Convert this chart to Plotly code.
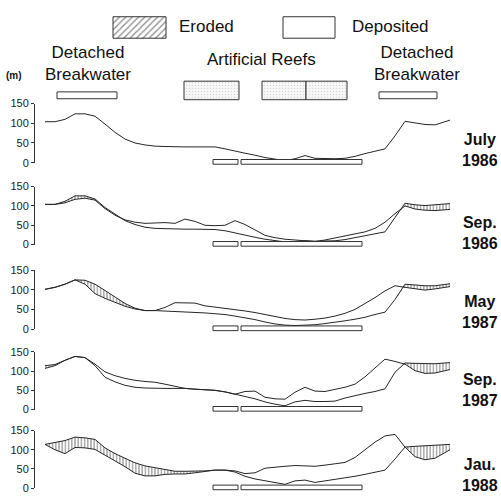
import plotly.graph_objects as go
import numpy as np

# ---------------- data ----------------
alongshore = [45, 55, 65, 75, 85, 95, 105, 115, 125, 135, 145, 155, 165, 175, 185,
              195, 205, 215, 225, 235, 245, 255, 265, 275, 285, 295, 305, 315, 325,
              335, 345, 355, 365, 375, 385, 395, 405, 415, 425, 435, 450]

survey_names = ["July<br>1986", "Sep.<br>1986", "May<br>1987", "Sep.<br>1987", "Jau.<br>1988"]

shore_jul86 = [104, 104, 110, 124, 124, 118, 98, 77, 60, 50,
               45, 42, 41, 40, 40, 40, 40, 40, 35, 29,
               24, 19, 13, 9, 5, 10, 18, 11, 10, 10,
               11, 16, 23, 29, 35, 68, 105, 101, 97, 96, 108]

ref_sep86 = [104, 104, 112, 126, 126, 118, 96, 78, 62, 52,
             45, 42, 41, 40, 40, 40, 40, 39, 36, 30,
             24, 19, 14, 10, 7, 8, 10, 9, 9, 10,
             13, 18, 24, 29, 33, 70, 107, 103, 101, 103, 106]
shore_sep86 = [104, 104, 108, 117, 120, 115, 93, 76, 64, 58,
               55, 56, 57, 55, 66, 60, 50, 49, 50, 62,
               52, 38, 24, 18, 14, 12, 10, 8, 12, 17,
               23, 28, 33, 42, 58, 80, 100, 92, 89, 88, 91]

ref_may87 = [101, 106, 114, 125, 124, 114, 98, 82, 65, 53,
             47, 47, 46, 44, 43, 42, 41, 39, 37, 33,
             29, 24, 18, 13, 10, 9, 10, 11, 14, 17,
             21, 25, 30, 37, 43, 75, 114, 112, 110, 110, 115]
shore_may87 = [101, 106, 114, 125, 114, 90, 78, 67, 58, 51,
               47, 47, 55, 67, 67, 66, 59, 56, 53, 50,
               46, 42, 37, 32, 27, 24, 23, 25, 28, 33,
               40, 50, 64, 80, 97, 110, 106, 102, 99, 102, 108]

ref_sep87 = [114, 117, 128, 138, 135, 114, 84, 72, 63, 58,
             56, 55, 55, 55, 55, 53, 51, 50, 46, 40,
             33, 28, 20, 14, 10, 20, 24, 21, 21, 22,
             30, 37, 42, 47, 54, 97, 121, 120, 119, 119, 122]
shore_sep87 = [107, 114, 128, 138, 135, 118, 98, 88, 81, 76,
               73, 71, 66, 60, 55, 53, 51, 50, 46, 40,
               47, 48, 32, 28, 27, 45, 58, 48, 47, 53,
               58, 66, 85, 108, 131, 125, 118, 101, 94, 95, 104]

ref_jan88 = [114, 119, 124, 133, 131, 127, 105, 90, 78, 66,
             58, 53, 48, 44, 44, 44, 45, 47, 47, 42,
             31, 24, 19, 14, 10, 19, 21, 15, 19, 22,
             26, 31, 36, 42, 47, 76, 107, 109, 110, 111, 114]
shore_jan88 = [114, 100, 90, 106, 105, 101, 86, 72, 56, 39,
               32, 32, 36, 37, 37, 40, 44, 47, 47, 45,
               38, 40, 52, 55, 57, 59, 58, 57, 60, 63,
               67, 80, 100, 120, 136, 140, 107, 82, 74, 78, 100]

panels = [(None, shore_jul86), (ref_sep86, shore_sep86), (ref_may87, shore_may87),
          (ref_sep87, shore_sep87), (ref_jan88, shore_jan88)]

y_ticks = [0, 50, 100, 150]

# structures (alongshore extents)
breakwaters_top = [(57, 117), (379, 437)]
reefs_top = [(184, 239), (262, 306), (306, 347)]
reef_footprints = [(213, 238), (241, 362)]

# ---------------- layout geometry ----------------
W = H = 501
FONT = "Liberation Sans, Arial, sans-serif"
INK = "#262626"
panel_px = [(160.5, 100), (244.5, 185), (331, 270.5), (413.5, 354.3), (494, 435)]
label_cy = [148, 232.5, 314, 393, 480]


def px_x(p):
    return p / W


def px_y(p):
    return 1 - p / H


fig = go.Figure()
LINE = dict(color=INK, width=1)
HATCH = dict(shape="|", fgcolor="#2e2e2e", bgcolor="white", size=3.2, solidity=0.38)

for i, (ref, cur) in enumerate(panels):
    ya = "y" if i == 0 else f"y{i+1}"
    if ref is not None:
        fig.add_trace(go.Scatter(x=alongshore, y=ref, yaxis=ya, mode="lines",
                                 line=dict(width=0, color="white"), hoverinfo="skip", showlegend=False))
        fig.add_trace(go.Scatter(x=alongshore, y=np.minimum(ref, cur), yaxis=ya, mode="lines",
                                 line=dict(width=0, color="white"), fill="tonexty", fillcolor="white",
                                 fillpattern=HATCH, hoverinfo="skip", showlegend=False))
        fig.add_trace(go.Scatter(x=alongshore, y=ref, yaxis=ya, mode="lines", line=LINE, showlegend=False))
    fig.add_trace(go.Scatter(x=alongshore, y=cur, yaxis=ya, mode="lines", line=LINE, showlegend=False))


def box_trace(x0, x1, y0, y1, fillcolor="white", pattern=None):
    return go.Scatter(x=[x0, x1, x1, x0, x0], y=[y0, y0, y1, y1, y0], yaxis="y6",
                      mode="lines", fill="toself", fillcolor=fillcolor,
                      fillpattern=pattern, line=dict(color="#333333", width=1),
                      hoverinfo="skip", showlegend=False)


# legend boxes
fig.add_trace(box_trace(113, 166, 11, 33, pattern=dict(shape="/", fgcolor="#222", bgcolor="white",
                                                          size=4.5, solidity=0.3)))
fig.add_trace(box_trace(283, 335, 11, 33))
# top structures
for x0, x1 in breakwaters_top:
    fig.add_trace(box_trace(x0, x1, 88, 95))
for x0, x1 in reefs_top:
    fig.add_trace(box_trace(x0, x1, 77, 96, fillcolor="#f6f6f6",
                            pattern=dict(shape=".", fgcolor="#b5b5b5", bgcolor="#f7f7f7", size=3, solidity=0.2)))

layout = dict(
    width=W, height=H, margin=dict(l=0, r=0, t=0, b=0),
    paper_bgcolor="white", plot_bgcolor="rgba(0,0,0,0)",
    showlegend=False, font=dict(family=FONT, color=INK),
    xaxis=dict(domain=[px_x(35), px_x(460)], range=[35, 460], visible=False, fixedrange=True),
    yaxis6=dict(domain=[0, 1], range=[H, 0], anchor="x", visible=False, fixedrange=True),
)

shapes = []
for i, (z0, z150) in enumerate(panel_px):
    key = "yaxis" if i == 0 else f"yaxis{i+1}"
    d0, d1 = px_y(z0), px_y(z150)
    layout[key] = dict(domain=[d0, d1], range=[0, 150], anchor="x", tickvals=y_ticks,
                       ticks="outside", ticklen=3, tickwidth=1, tickcolor="#333",
                       showline=True, linecolor="#333", linewidth=1, showgrid=False,
                       zeroline=False, tickfont=dict(size=11, color="#222", family=FONT),
                       fixedrange=True)
    for x0, x1 in reef_footprints:
        shapes.append(dict(type="rect", xref="x", yref="paper", x0=x0, x1=x1,
                           y0=d0 + (-4) / 150 * (d1 - d0), y1=d0 + 8 / 150 * (d1 - d0),
                           line=dict(color="#333", width=1), fillcolor="white"))

annotations = []


def txt(text, x, y, size, xanchor="center", bold=False):
    annotations.append(dict(text=f"<b>{text}</b>" if bold else text, x=px_x(x), y=px_y(y),
                            xref="paper", yref="paper", xanchor=xanchor, yanchor="middle",
                            showarrow=False, font=dict(size=size, family=FONT, color="#111")))


txt("Eroded", 177, 21, 17, xanchor="left")
txt("Deposited", 350, 21, 17, xanchor="left")
txt("Detached<br>Breakwater", 88, 59, 17)
txt("Artificial Reefs", 261, 55, 17)
txt("Detached<br>Breakwater", 417, 59, 17)
txt("(m)", 14, 71, 10, bold=True)
for name, cy in zip(survey_names, label_cy):
    txt(name, 460, cy, 16, xanchor="left", bold=True)

layout["shapes"] = shapes
layout["annotations"] = annotations
fig.update_layout(**layout)
fig.write_html("out.html", config={"displayModeBar": False},
               post_script="document.body.style.margin='0px';document.body.style.overflow='hidden';")
